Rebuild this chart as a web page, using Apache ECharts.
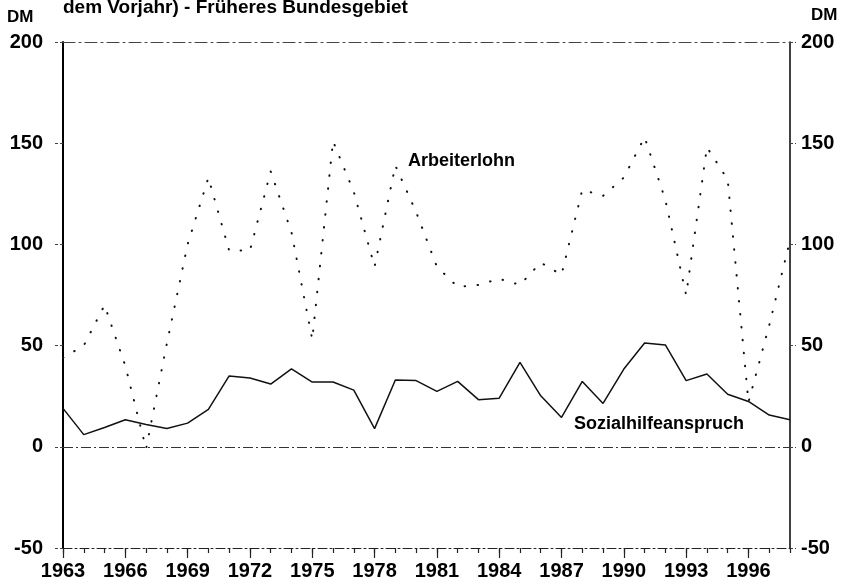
<!DOCTYPE html>
<html>
<head>
<meta charset="utf-8">
<script src="https://cdn.jsdelivr.net/npm/echarts@6/dist/echarts.min.js"></script>
<style>
    html, body { margin: 0; padding: 0; background: #fff; }
    #main { width: 855px; height: 588px; }
</style>
</head>
<body>
<div id="main"></div>
<script>
// Jahre 1963 - 1998
var years = [1963, 1964, 1965, 1966, 1967, 1968, 1969, 1970, 1971, 1972,
    1973, 1974, 1975, 1976, 1977, 1978, 1979, 1980, 1981, 1982,
    1983, 1984, 1985, 1986, 1987, 1988, 1989, 1990, 1991, 1992,
    1993, 1994, 1995, 1996, 1997, 1998];
// Arbeiterlohn (gepunktet)
var arbeiterlohn = [44, 50, 70, 40, -1, 51, 100, 133, 97, 97,
    136, 106, 53, 151, 126, 89, 139, 116, 89, 79,
    80, 83, 80, 91, 85, 127, 124, 133, 153, 122,
    75, 148, 132, 22, 60, 102];
// Sozialhilfeanspruch (durchgezogen)
var sozialhilfe = [19, 6, 9.5, 13.4, 11, 9, 11.7, 18.5, 35, 34,
    31, 38.5, 32, 32, 28, 9, 33, 32.7, 27.4, 32.3,
    23.3, 24, 41.7, 25.2, 14.5, 32.3, 21.4, 38.4, 51.3, 50.3,
    32.7, 36, 26, 22.4, 15.7, 13.4];

var font = '"Liberation Sans", Arial, sans-serif';

function pairs(xs, ys) {
    var out = [];
    for (var i = 0; i < xs.length; i++) {
        out.push([xs[i], ys[i]]);
    }
    return out;
}

var chart = echarts.init(document.getElementById('main'));
var option = {
    animation: false,
    backgroundColor: '#fff',
    grid: {
        left: 63,
        right: 65,
        top: 42,
        bottom: 40
    },
    graphic: [
        { type: 'text', left: 63, top: -2, style: { text: 'dem Vorjahr) - Früheres Bundesgebiet', font: 'bold 19px ' + font, fill: '#000' } },
        { type: 'text', left: 7, top: 9, style: { text: 'DM', font: 'bold 17px ' + font, fill: '#000' } },
        { type: 'text', left: 811, top: 7, style: { text: 'DM', font: 'bold 17px ' + font, fill: '#000' } },
        { type: 'text', left: 408, top: 152, style: { text: 'Arbeiterlohn', font: 'bold 18px ' + font, fill: '#000' } },
        { type: 'text', left: 574, top: 415, style: { text: 'Sozialhilfeanspruch', font: 'bold 18px ' + font, fill: '#000' } }
    ],
    xAxis: [{
        type: 'value',
        min: 1963,
        max: 1998,
        interval: 3,
        position: 'bottom',
        axisLine: { show: true, onZero: false, lineStyle: { color: '#222', width: 1, type: [9, 3, 2, 3] } },
        axisTick: { show: true, length: 10, lineStyle: { color: '#222', width: 1.2 } },
        axisLabel: {
            margin: 13,
            showMaxLabel: false,
            color: '#000',
            fontFamily: font,
            fontWeight: 'bold',
            fontSize: 20,
            formatter: function (v) { return String(v); }
        },
        splitLine: { show: false }
    }, {
        // Jahresstriche
        type: 'value',
        min: 1963,
        max: 1998,
        interval: 1,
        position: 'bottom',
        axisLine: { show: false, onZero: false },
        axisTick: { show: true, length: 5, lineStyle: { color: '#222', width: 1.2 } },
        axisLabel: { show: false },
        splitLine: { show: false }
    }, {
        // obere Rahmenlinie
        type: 'value',
        min: 1963,
        max: 1998,
        position: 'top',
        axisLine: { show: true, onZero: false, lineStyle: { color: '#444', width: 1, type: [12, 4, 2, 4] } },
        axisTick: { show: false },
        axisLabel: { show: false },
        splitLine: { show: false }
    }],
    yAxis: [{
        type: 'value',
        min: -50,
        max: 200,
        interval: 50,
        position: 'left',
        axisLine: { show: true, onZero: false, lineStyle: { color: '#000', width: 2 } },
        axisTick: { show: true, length: 8, lineStyle: { color: '#444', width: 1, type: [3, 2] } },
        axisLabel: {
            margin: 20,
            color: '#000',
            fontFamily: font,
            fontWeight: 'bold',
            fontSize: 20
        },
        splitLine: { show: false }
    }, {
        type: 'value',
        min: -50,
        max: 200,
        interval: 50,
        position: 'right',
        axisLine: { show: true, onZero: false, lineStyle: { color: '#000', width: 1.5 } },
        axisTick: { show: true, length: 6, lineStyle: { color: '#444', width: 1, type: [3, 2] } },
        axisLabel: {
            margin: 11,
            color: '#000',
            fontFamily: font,
            fontWeight: 'bold',
            fontSize: 20
        },
        splitLine: { show: false }
    }],
    series: [{
        name: 'Arbeiterlohn',
        type: 'line',
        xAxisIndex: 0,
        yAxisIndex: 0,
        data: pairs(years, arbeiterlohn),
        showSymbol: false,
        lineStyle: { color: '#111', width: 2, type: [0.5, 12.5], cap: 'round' }
    }, {
        name: 'Sozialhilfeanspruch',
        type: 'line',
        xAxisIndex: 0,
        yAxisIndex: 0,
        data: pairs(years, sozialhilfe),
        showSymbol: false,
        lineStyle: { color: '#111', width: 1.5 },
        markLine: {
            silent: true,
            symbol: 'none',
            label: { show: false },
            lineStyle: { color: '#333', width: 1, type: [10, 3, 2, 3] },
            data: [{ yAxis: 0 }]
        }
    }]
};
chart.setOption(option);
</script>
</body>
</html>
